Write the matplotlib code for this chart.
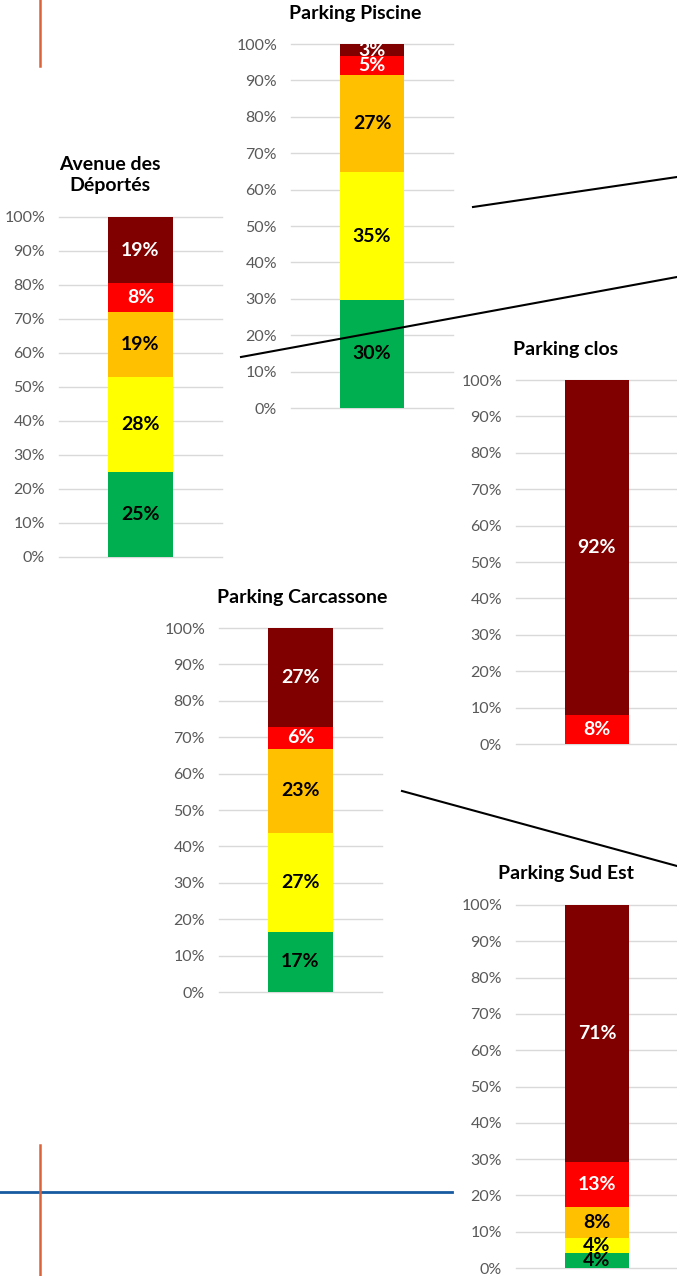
import matplotlib
matplotlib.use('Agg')
from matplotlib import pyplot as plt
from matplotlib.lines import Line2D
import numpy as np

plt.rcParams['font.family'] = ['Lato', 'DejaVu Sans']

# shares per site, bottom to top: green, yellow, orange, red, dark red
levels = ['vert', 'jaune', 'orange', 'rouge', 'bordeaux']
colors = ['#00B050', '#FFFF00', '#FFC000', '#FF0000', '#800000']
text_colors = ['black', 'black', 'black', 'white', 'white']

titles = ['Avenue des\nDéportés', 'Parking Piscine', 'Parking clos',
          'Parking Carcassone', 'Parking Sud Est']
avenue = [25.0, 27.8, 19.4, 8.3, 19.4]
piscine = [29.7, 35.1, 26.7, 5.2, 3.3]
clos = [0, 0, 0, 8.0, 92.0]
carcassone = [16.5, 27.2, 23.1, 6.0, 27.2]
sud_est = [4.2, 4.2, 8.3, 12.5, 70.8]
series = [avenue, piscine, clos, carcassone, sud_est]
yticks = np.arange(0, 101, 10)

W, H = 677, 1276
# axes boxes in pixels from top-left (left, top, right, bottom), title centre
boxes = [(59, 217, 222, 557), (291, 44, 453, 408), (516, 380, 678, 744),
         (219, 628, 382, 992), (516, 905, 678, 1268)]
title_pos = [(110, 175), (355, 14), (566, 350), (302, 597), (566, 874)]

fig = plt.figure(figsize=(W / 100, H / 100), dpi=100)


def px_line(x, y, **kw):
    # pixel coordinates measured from the top-left corner
    fig.add_artist(Line2D(x, [H - v for v in y], transform=None, **kw))


# decorative shapes of the slide
px_line([0, 452], [1192, 1192], color='#175AA0', lw=2)
for y0, y1 in [(0, 66), (1145, 1276)]:
    px_line([40, 40], [y0, y1], color='#DC6238', lw=1.8)
for (x0, y0), (x1, y1) in [((473, 207), (677, 177)), ((241, 357), (677, 277)),
                           ((402, 791), (677, 866))]:
    px_line([x0, x1], [y0, y1], color='black', lw=1.5, zorder=10)

for title, vals, box, tpos in zip(titles, series, boxes, title_pos):
    l, t, r, b = box
    ax = fig.add_axes([l / W, 1 - b / H, (r - l) / W, (b - t) / H])
    bottom = 0
    for v, c, tc in zip(vals, colors, text_colors):
        if v > 0:
            ax.bar(0, v, 0.4, bottom=bottom, color=c, zorder=2)
            ax.text(0, bottom + v / 2, f'{int(v + 0.5)}%', ha='center',
                    va='center', color=tc, fontsize=14, fontweight='bold',
                    zorder=3)
        bottom += v
    ax.set_xlim(-0.5, 0.5)
    ax.set_ylim(0, 100)
    ax.set_yticks(yticks)
    ax.set_yticklabels([f'{v}%' for v in yticks])
    ax.set_xticks([])
    ax.tick_params(axis='y', length=0, pad=10, labelsize=11.5,
                   labelcolor='#595959')
    ax.yaxis.grid(True, color='#D9D9D9', lw=1)
    for gl in ax.get_ygridlines():
        gl.set_clip_on(False)
    ax.set_axisbelow(True)
    for s in ax.spines.values():
        s.set_visible(False)
    ax.patch.set_alpha(0)
    fig.text(tpos[0] / W, 1 - tpos[1] / H, title, ha='center', va='center',
             fontsize=14, fontweight='bold', linespacing=1.25)

plt.savefig('out.png', dpi=100)
